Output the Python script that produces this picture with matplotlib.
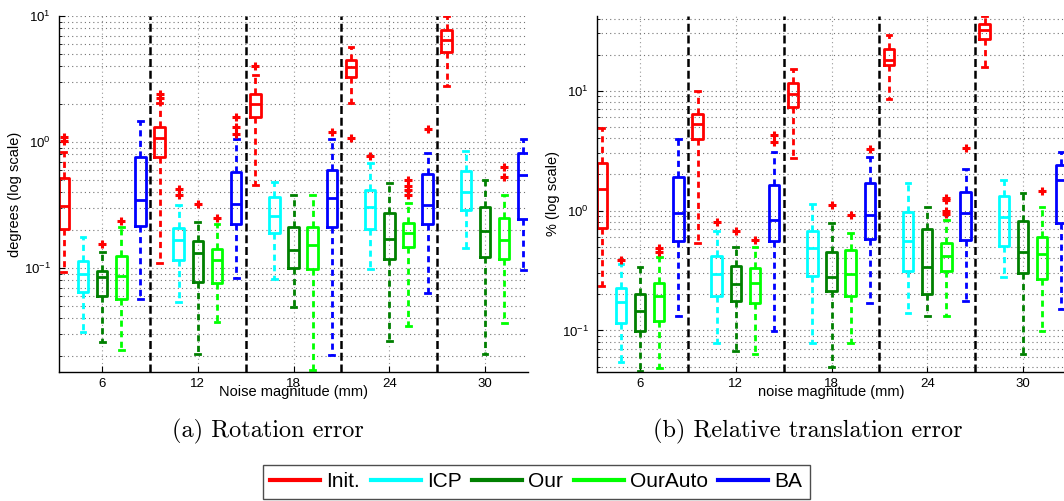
import matplotlib
matplotlib.use('Agg')
import matplotlib.pyplot as plt
from matplotlib.lines import Line2D
from matplotlib.ticker import LogLocator, NullFormatter

plt.rcParams['font.family'] = ['Liberation Sans', 'DejaVu Sans']
plt.rcParams['mathtext.default'] = 'regular'

noise = [6, 12, 18, 24, 30]
methods = ['Init.', 'ICP', 'Our', 'OurAuto', 'BA']
colors = ['#ff0000', '#00ffff', '#008000', '#00ff00', '#0000ff']

# rotation error (degrees); rows follow `methods`, columns follow `noise`
rot_lo = [[0.093, 0.11, 0.455, 2.04, 2.78],
          [0.031, 0.054, 0.082, 0.098, 0.144],
          [0.026, 0.021, 0.049, 0.0264, 0.0207],
          [0.0223, 0.0373, 0.0155, 0.035, 0.0366],
          [0.057, 0.083, 0.0204, 0.063, 0.096]]
rot_q1 = [[0.204, 0.76, 1.58, 3.28, 5.18],
          [0.0645, 0.116, 0.19, 0.204, 0.288],
          [0.060, 0.0774, 0.10, 0.118, 0.122],
          [0.0567, 0.076, 0.098, 0.147, 0.118],
          [0.215, 0.224, 0.211, 0.224, 0.245]]
rot_med = [[0.31, 1.076, 2.0, 3.93, 6.45],
           [0.0897, 0.167, 0.259, 0.305, 0.40],
           [0.085, 0.132, 0.139, 0.17, 0.196],
           [0.087, 0.116, 0.152, 0.19, 0.167],
           [0.347, 0.322, 0.36, 0.316, 0.547]]
rot_q3 = [[0.518, 1.31, 2.4, 4.47, 7.74],
          [0.114, 0.207, 0.366, 0.416, 0.588],
          [0.095, 0.164, 0.211, 0.273, 0.305],
          [0.124, 0.142, 0.211, 0.228, 0.249],
          [0.76, 0.578, 0.60, 0.557, 0.818]]
rot_hi = [[0.83, 2.05, 3.4, 5.67, 10.0],
          [0.176, 0.316, 0.48, 0.68, 0.85],
          [0.134, 0.232, 0.38, 0.473, 0.50],
          [0.211, 0.225, 0.38, 0.328, 0.38],
          [1.47, 1.05, 1.06, 0.818, 1.06]]
rot_out = [[[1.02, 1.1], [2.23, 2.4], [4.0], [1.08], []],
           [[], [0.38, 0.423], [], [0.774], []],
           [[0.155], [0.32], [], [], []],
           [[0.236], [0.249], [], [0.38, 0.42, 0.45, 0.5], [0.527, 0.633]],
           [[], [1.16, 1.31, 1.58], [1.2], [1.27], []]]

# relative translation error (%)
tr_lo = [[0.233, 0.541, 2.77, 8.58, 15.8],
         [0.055, 0.079, 0.079, 0.141, 0.277],
         [0.046, 0.067, 0.05, 0.131, 0.063],
         [0.049, 0.063, 0.079, 0.131, 0.098],
         [0.131, 0.098, 0.168, 0.175, 0.15]]
tr_q1 = [[0.72, 3.98, 7.36, 16.5, 27.1],
         [0.116, 0.192, 0.287, 0.316, 0.51],
         [0.098, 0.175, 0.215, 0.203, 0.304],
         [0.121, 0.168, 0.192, 0.316, 0.266],
         [0.562, 0.562, 0.584, 0.573, 0.794]]
tr_med = [[1.52, 5.31, 9.44, 18.1, 32.3],
          [0.171, 0.298, 0.49, 0.552, 0.89],
          [0.144, 0.246, 0.277, 0.341, 0.455],
          [0.192, 0.251, 0.298, 0.42, 0.43],
          [0.96, 0.84, 0.926, 0.96, 1.8]]
tr_q3 = [[2.51, 6.43, 11.7, 22.4, 36.3],
         [0.228, 0.414, 0.68, 0.98, 1.31],
         [0.203, 0.348, 0.447, 0.708, 0.826],
         [0.251, 0.329, 0.473, 0.541, 0.607],
         [1.92, 1.62, 1.71, 1.44, 2.42]]
tr_hi = [[4.92, 10.0, 15.2, 29.3, 42.0],
         [0.355, 0.68, 1.14, 1.71, 1.81],
         [0.335, 0.50, 0.794, 1.08, 1.41],
         [0.406, 0.50, 0.656, 0.84, 1.08],
         [3.98, 3.1, 2.82, 2.24, 3.1]]
tr_out = [[[], [], [], [], []],
          [[0.39], [0.81], [], [], []],
          [[], [0.68], [1.12], [], []],
          [[0.455, 0.49], [0.573], [0.91], [0.94, 1.0, 1.23, 1.28], [1.47]],
          [[], [3.76, 4.3], [3.29], [3.35], []]]


def draw_panel(ax, lo, q1, med, q3, hi, out, ylim, ylabel, xlabel):
    n, m = len(noise), len(methods)
    for k in range(m):
        stats = [dict(whislo=lo[k][g], q1=q1[k][g], med=med[k][g], q3=q3[k][g],
                      whishi=hi[k][g], fliers=out[k][g]) for g in range(n)]
        pos = [g * m + k + 1 for g in range(n)]
        c = colors[k]
        ax.bxp(stats, positions=pos, widths=0.55, capwidths=0.25, manage_ticks=False,
               boxprops=dict(color=c, lw=2),
               medianprops=dict(color=c, lw=2),
               whiskerprops=dict(color=c, lw=2, linestyle=(0, (2.2, 1.6))),
               capprops=dict(color=c, lw=2),
               flierprops=dict(marker='+', markeredgecolor='red', markersize=6,
                               markeredgewidth=2.2, linestyle='none'))
    # separators between noise levels
    for g in range(1, n):
        ax.axvline(g * m + 0.5, color='k', lw=1.8, ls=(0, (3.2, 1.5)), zorder=3)

    ax.set_yscale('log')
    ax.set_ylim(*ylim)
    ax.set_xlim(0.75, n * m + 0.25)
    ax.set_xticks([g * m + (m + 1) / 2 for g in range(n)], [str(v) for v in noise])
    ax.yaxis.set_major_locator(LogLocator(base=10))
    ax.yaxis.set_minor_locator(LogLocator(base=10, subs=range(2, 10)))
    ax.yaxis.set_minor_formatter(NullFormatter())
    ax.set_axisbelow(True)
    ax.grid(True, axis='y', which='both', color='0.45', lw=0.8, ls=(0, (1, 2.8)))
    ax.grid(True, axis='x', which='major', color='0.6', lw=0.8, ls=(0, (1, 2.8)))
    for s in ('top', 'right'):
        ax.spines[s].set_visible(False)
    for s in ('left', 'bottom'):
        ax.spines[s].set_linewidth(1.0)
    ax.tick_params(which='both', direction='in', labelsize=9.5)
    ax.tick_params(which='major', length=4)
    ax.tick_params(which='minor', length=2.5)
    ax.tick_params(axis='x', pad=4)
    ax.tick_params(axis='y', pad=6)
    ax.set_ylabel(ylabel, fontsize=10.5)
    ax.set_xlabel(xlabel, fontsize=10.5)
    ax.yaxis.set_label_coords(-0.079, 0.5)
    ax.xaxis.set_label_coords(0.5, -0.036)


fig = plt.figure(figsize=(10.64, 5.01), dpi=100)
ax1 = fig.add_axes([0.0555, 0.2575, 0.4408, 0.7106])
ax2 = fig.add_axes([0.5611, 0.2575, 0.4408, 0.7106])

draw_panel(ax1, rot_lo, rot_q1, rot_med, rot_q3, rot_hi, rot_out,
           (0.015, 10), 'degrees (log scale)', 'Noise magnitude (mm)')
draw_panel(ax2, tr_lo, tr_q1, tr_med, tr_q3, tr_hi, tr_out,
           (0.045, 42), '% (log scale)', 'noise magnitude (mm)')

fig.text(0.252, 0.138, '(a) Rotation error', ha='center', va='center',
         family='cmr10', fontsize=17.5)
fig.text(0.759, 0.138, '(b) Relative translation error', ha='center', va='center',
         family='cmr10', fontsize=17.5)

handles = [Line2D([], [], color=c, lw=3) for c in colors]
leg = fig.legend(handles, methods, loc='center', bbox_to_anchor=(0.504, 0.038),
                 ncol=5, fontsize=15, handlelength=2.4, handletextpad=0.3,
                 columnspacing=0.5, borderpad=0.35, fancybox=False,
                 edgecolor='0.3', framealpha=1)
leg.get_frame().set_linewidth(1.0)

fig.savefig('out.png', dpi=100)
